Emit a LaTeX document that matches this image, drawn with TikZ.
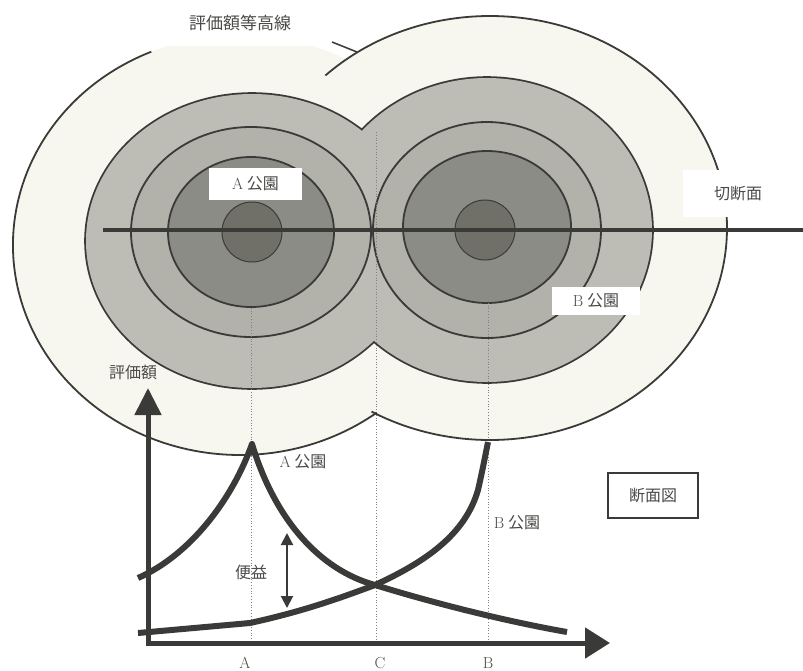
\documentclass[tikz,border=0pt]{standalone}
\usepackage{fontspec}
\newfontfamily\jp{Noto Sans CJK JP}
\usepackage{xcolor}
\usepackage{tikz}
\usetikzlibrary{arrows.meta}

\definecolor{ink}{HTML}{3A3A38}
\definecolor{txt}{HTML}{4A4A48}
\definecolor{cream}{HTML}{F7F7EF}
\definecolor{ringgrey}{HTML}{BDBDB5}
\definecolor{midgrey}{HTML}{B2B2AA}
\definecolor{darkgrey}{HTML}{8C8C86}
\definecolor{coregrey}{HTML}{707069}

\begin{document}
\begin{tikzpicture}[
  x=1pt, y=1pt,
  ring/.style={draw=ink, line width=1.8pt},
  jp/.style={font=\jp\fontsize{16}{18}\selectfont, text=txt},
  whitebox/.style={fill=white, inner sep=0pt},
  curve/.style={draw=ink, line width=6pt, line join=round},
  axis/.style={draw=ink, line width=5pt},
  guide/.style={draw=gray, dotted, line width=0.8pt}
]
\useasboundingbox (0,0) rectangle (803,-670);
\fill[white] (0,0) rectangle (803,-670);

% outer contour
\coordinate (Aout) at (240,-245);
\coordinate (Bout) at (490,-228);
\fill[cream] (Aout) ellipse [x radius=227, y radius=210];
\fill[cream] (Bout) ellipse [x radius=237, y radius=212];
\fill[white] (145,0) rectangle (335,-46);

% fourth contour, merged
\draw[ink, line width=3.6pt] (252,-241) ellipse [x radius=166, y radius=147]
  (487,-230) ellipse [x radius=165, y radius=152];
\fill[ringgrey] (252,-241) ellipse [x radius=166, y radius=147]
  (487,-230) ellipse [x radius=165, y radius=152];

% inner contours
\filldraw[ring, fill=midgrey] (251,-232) ellipse [x radius=120, y radius=105];
\filldraw[ring, fill=midgrey] (487,-230) ellipse [x radius=114, y radius=108];
\filldraw[ring, fill=darkgrey] (251,-232) ellipse [x radius=83, y radius=75];
\filldraw[ring, fill=darkgrey] (487,-227) ellipse [x radius=84, y radius=76];
\filldraw[ring, fill=coregrey, line width=1pt] (252,-232) circle [radius=30];
\filldraw[ring, fill=coregrey, line width=1pt] (485,-230) circle [radius=30];

% guides down to the section
\coordinate (Atop) at (251,-305);
\coordinate (Abot) at (251,-641);
\coordinate (Ctop) at (376,-132);
\coordinate (Cbot) at (376,-641);
\coordinate (Btop) at (488,-300);
\coordinate (Bbot) at (488,-641);
\draw[guide] (Atop) -- (Abot);
\draw[guide] (Ctop) -- (Cbot);
\draw[guide] (Btop) -- (Bbot);

% cutting line
\coordinate (cutL) at (103,-230);
\coordinate (cutR) at (803,-230);
\draw[ink, line width=4pt] (cutL) -- (cutR);

% outer contour lines
\draw[ring] ([shift={(113:227 and 210)}]Aout)
  arc [start angle=113, end angle=307, x radius=227, y radius=210];
\draw[ring] ([shift={(134:237 and 212)}]Bout)
  arc [start angle=134, end angle=-120, x radius=237, y radius=212];

% labels on the plan
\node[jp, font=\jp\fontsize{17}{18}\selectfont] (title) at (240,-23) {評価額等高線};
\coordinate (leadS) at (332,-42);
\coordinate (leadE) at (357,-52);
\draw[ink, line width=1.5pt] (leadS) -- (leadE);
\node[jp, whitebox, minimum width=93pt, minimum height=32pt] (parkA) at (255.5,-184) {\textrm{A} 公園};
\node[jp, whitebox, minimum width=88pt, minimum height=28pt] (parkB) at (596,-301) {\textrm{B} 公園};
\node[jp, whitebox, minimum width=110pt, minimum height=47pt] (cut) at (738,-193.5) {切断面};

% section
\coordinate (O) at (148,-643);
\coordinate (ytip) at (148,-388);
\coordinate (xtip) at (610,-643);
\draw[axis, line join=miter, {Triangle[length=27pt, width=26pt]}-{Triangle[length=25pt, width=30pt]}]
  (ytip) -- (O) -- (xtip);
\node[jp] (value) at (133,-372) {評価額};

\draw[curve] (138,-578) .. controls (190,-555) and (232,-500) .. (252,-444)
  .. controls (275,-520) and (320,-570) .. (375,-585)
  .. controls (440,-605) and (510,-622) .. (567,-632);
\draw[curve] (138,-633) -- (250,-623) .. controls (300,-612) and (335,-600) .. (375,-585)
  .. controls (425,-562) and (465,-535) .. (478,-490)
  .. controls (483,-468) and (486,-452) .. (488,-442);

\coordinate (gainT) at (287,-533);
\coordinate (gainB) at (287,-608);
\draw[ink, line width=2pt, {Triangle[length=12pt, width=12pt]}-{Triangle[length=12pt, width=12pt]}]
  (gainT) -- (gainB);
\node[jp] (gain) at (251,-572) {便益};

\node[jp] (peakA) at (303,-462) {\textrm{A} 公園};
\node[jp] (peakB) at (517,-523) {\textrm{B} 公園};
\node[jp, draw=ink, line width=1.5pt, minimum width=90pt, minimum height=45pt] (section) at (653,-495.5) {断面図};

\node[font=\fontsize{16}{18}\selectfont, text=txt, anchor=base] (xA) at (245,-668) {A};
\node[font=\fontsize{16}{18}\selectfont, text=txt, anchor=base] (xC) at (380,-668) {C};
\node[font=\fontsize{16}{18}\selectfont, text=txt, anchor=base] (xB) at (488,-668) {B};
\end{tikzpicture}
\end{document}
